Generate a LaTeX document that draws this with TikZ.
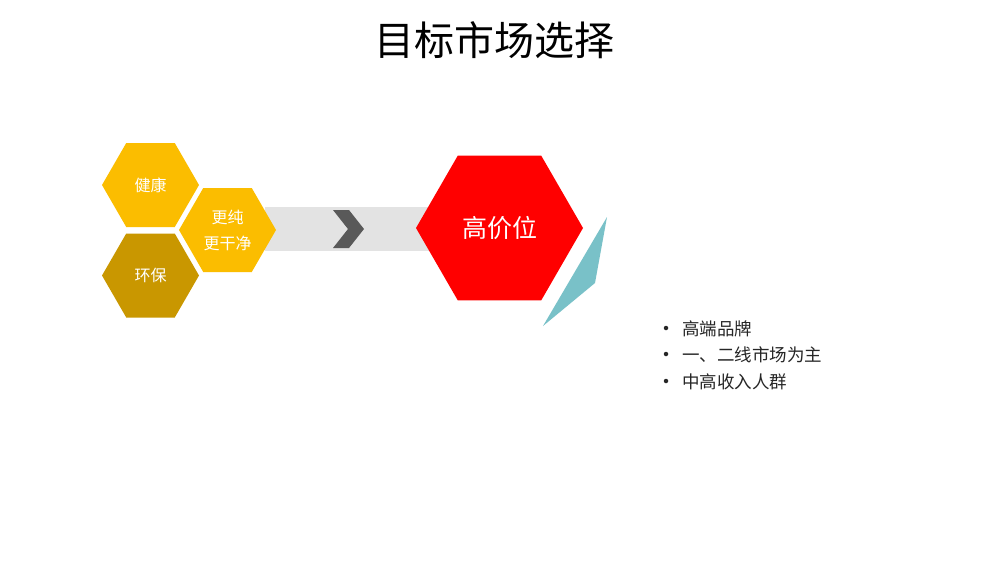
\documentclass[tikz,border=0pt]{standalone}
\usepackage{fontspec}
\setmainfont{Noto Sans CJK SC}
\newfontfamily\cjk{Noto Sans CJK SC}
\usetikzlibrary{shapes.geometric}
\definecolor{gold}{HTML}{FBBD00}
\definecolor{darkgold}{HTML}{C99700}
\definecolor{bandgray}{HTML}{E3E3E3}
\definecolor{chevgray}{HTML}{595959}
\definecolor{teal1}{HTML}{79C1C8}
\tikzset{
  hexa/.style={regular polygon, regular polygon sides=6, inner sep=0pt, outer sep=0pt, text=white, font=\cjk\fontsize{16}{26}\selectfont, align=center},
  bullettext/.style={anchor=west, inner sep=0pt, font=\cjk\fontsize{17.5}{20}\selectfont, text=black!85},
  bulletdot/.style={circle, fill=black!85, inner sep=0pt, minimum size=4.5pt},
}
\begin{document}
\begin{tikzpicture}[x=1pt,y=-1pt]
\useasboundingbox[fill=white] (0,0) rectangle (992,566);
\node[font=\cjk\fontsize{40}{44}\selectfont, inner sep=0pt] (title) at (494,40) {目标市场选择};
% gray band
\fill[bandgray] (265,207) rectangle (430,251);
\coordinate (chev) at (348,229);
\fill[chevgray] (333,210) -- (349,210) -- (364,229) -- (349,248) -- (333,248) -- (348,229) -- cycle;
% hexagons
\node[hexa, fill=gold, minimum size=97pt] (h1) at (150.5,185) {健康};
\node[hexa, fill=darkgold, minimum size=97pt] (h3) at (150.5,275.5) {环保};
\node[hexa, fill=gold, minimum size=97pt] (h2) at (227.5,230) {更纯\\更干净};
\node[hexa, fill=red, minimum size=167pt, font=\cjk\fontsize{25}{28}\selectfont] (h4) at (499.5,228) {高价位};
% teal sliver
\fill[teal1] (607,217) -- (595,283) -- (543,326) -- cycle;
% bullets
\foreach \t/\y [count=\i] in {高端品牌/329, 一、二线市场为主/355, 中高收入人群/382}{
  \node[bulletdot] (b\i) at (666,\y-1) {};
  \node[bullettext] (t\i) at (682,\y) {\t};
}
\end{tikzpicture}
\end{document}
